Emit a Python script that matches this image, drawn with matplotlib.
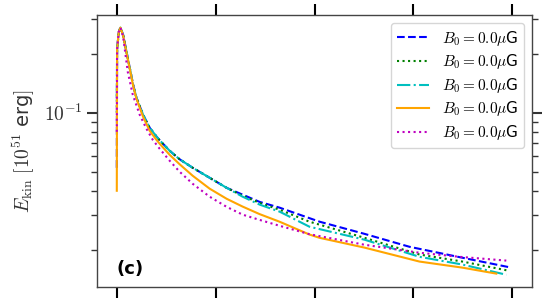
import matplotlib
matplotlib.use("Agg")
import matplotlib.pyplot as plt
import matplotlib.ticker as mticker

plt.rcParams['mathtext.fontset'] = 'cm'
plt.rcParams['font.family'] = ['DejaVu Sans']

# data (time in arbitrary units, energy in 1e51 erg)
t_rise = [0, 0.003, 0.02, 0.037]
e_rise_peak = [0.21, 0.259, 0.2724]

t_early = [0.064, 0.098, 0.131, 0.165, 0.199, 0.266, 0.333, 0.401, 0.434, 0.535, 0.636, 0.768, 0.939, 1.111]
e_early_group = [0.250, 0.2055, 0.1697, 0.1390, 0.1193, 0.0977, 0.0838, 0.0757, 0.0724, 0.0640, 0.0579, 0.0524, 0.0466, 0.0414]

t_blue = t_rise + t_early + [1.273, 1.444, 1.646, 2.051, 2.505, 2.960, 3.495, 3.990]
e_blue = [0.0524] + e_rise_peak + e_early_group + [0.0382, 0.0351, 0.0328, 0.0278, 0.0241, 0.0207, 0.0182, 0.0162]

t_green = t_rise + t_early + [1.273, 1.444, 1.646, 1.949, 2.505, 3.061, 3.495, 3.970]
e_green = [0.100] + e_rise_peak + e_early_group + [0.0377, 0.0347, 0.0320, 0.0278, 0.0230, 0.0189, 0.0174, 0.0156]

t_cyan = t_rise + t_early + [1.273, 1.444, 1.646, 1.949, 2.505, 3.061, 3.495, 3.940]
e_cyan = [0.119] + e_rise_peak + e_early_group + [0.0373, 0.0340, 0.0313, 0.0262, 0.0225, 0.0184, 0.0168, 0.0149]

t_orange = t_rise + [0.064, 0.098, 0.131, 0.165, 0.199, 0.266, 0.333, 0.401, 0.434, 0.535, 0.636,
                     0.768, 0.939, 1.111, 1.273, 1.444, 1.646, 1.949, 2.051, 2.505, 3.061, 3.495, 3.838]
e_orange = [0.040] + e_rise_peak + [0.248, 0.2030, 0.1680, 0.1375, 0.1180, 0.0954, 0.0809, 0.0728, 0.0695, 0.0610,
                                    0.0546, 0.0477, 0.0410, 0.0364, 0.0332, 0.0304, 0.0278, 0.0239, 0.0230, 0.0205,
                                    0.0174, 0.0162, 0.0151]

t_mag = t_rise + [0.064, 0.111, 0.162, 0.232, 0.300, 0.364, 0.434, 0.535, 0.636, 0.768, 0.939, 1.111,
                  1.273, 1.444, 1.646, 1.949, 2.505, 3.061, 3.465, 3.939]
e_mag = [0.080] + e_rise_peak + [0.245, 0.1619, 0.1235, 0.0977, 0.0829, 0.0728, 0.0655, 0.0569, 0.0500, 0.0434,
                                 0.0373, 0.0331, 0.0302, 0.0284, 0.0265, 0.0240, 0.0212, 0.0193, 0.0184, 0.0176]

labels = [r'$B_0 = 0.0\mu$G'] * 5
x_ticks = [0, 1, 2, 3, 4]

fig = plt.figure(figsize=(5.56, 2.98), dpi=100)
ax = fig.add_axes([0.1745, 0.0369, 0.957 - 0.1745, 0.9497 - 0.0369])

lw = 1.5
ax.plot(t_blue, e_blue, color='b', ls='--', lw=lw, label=labels[0])
ax.plot(t_green, e_green, color='g', ls=':', lw=lw, label=labels[1])
ax.plot(t_cyan, e_cyan, color='c', ls='-.', lw=lw, label=labels[2])
ax.plot(t_orange, e_orange, color='orange', ls='-', lw=lw, label=labels[3])
ax.plot(t_mag, e_mag, color='m', ls=':', lw=lw, label=labels[4])

ax.set_yscale('log')
ax.set_ylim(0.0129, 0.316)
ax.set_xlim(-0.2, 4.2)
ax.set_xticks(x_ticks)
ax.set_xticklabels([])
ax.set_yticks([0.1])
ax.set_yticklabels([r'$10^{-1}$'], fontsize=14, color='#333333')

ax.tick_params(which='both', direction='out', top=True, right=True,
               labelright=False, labeltop=False, color='#333333')
ax.tick_params(which='major', length=7, width=1.5)
ax.tick_params(which='minor', length=4, width=1.0)
ax.tick_params(axis='x', which='major', length=8, width=1.5, color='black')
ax.minorticks_on()
ax.xaxis.set_minor_locator(mticker.NullLocator())
ax.yaxis.set_minor_formatter(mticker.NullFormatter())

for s in ax.spines.values():
    s.set_color('#444444')
    s.set_linewidth(1.0)

ax.set_ylabel(r'$E_{\rm kin}\ [10^{51}$ erg$]$', fontsize=14, color='#333333', labelpad=5)

ax.text(0.076, 0.065, '(c)', transform=ax.transAxes, fontsize=13,
        fontweight='bold', ha='center', va='center')

ax.legend(loc='upper right', fontsize=11, handlelength=2.1, labelspacing=0.3,
          borderaxespad=0.5, handletextpad=0.85)

fig.savefig('out.png', dpi=100)
